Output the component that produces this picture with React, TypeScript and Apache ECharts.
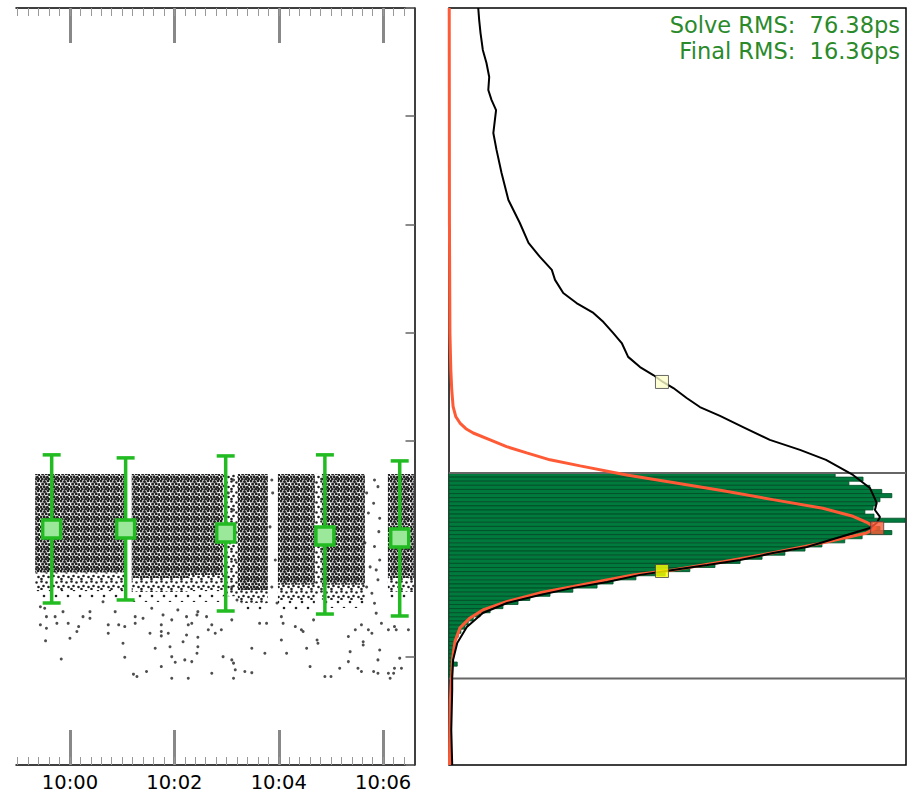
import React, { useEffect, useRef } from 'react';
import * as echarts from 'echarts';

// ---------- axis ticks (seconds after 10:00:00) ----------
const majorTimeTicks = [0, 120, 240, 360];
const minorTimeTicks = [-60, -48, -36, -24, -12, 0, 12, 24, 36, 48, 60, 72, 84, 96, 108, 120, 132, 144, 156, 168, 180, 192, 204, 216, 228, 240, 252, 264, 276, 288, 300, 312, 324, 336, 348, 360, 372, 384];

// ---------- error bars (time, mean delay, low, high) ----------
const errTimes = [-21, 64, 179, 293, 379];
const errMeans = [-190.9, -190.9, -192.7, -194.1, -195.0];
const errLows = [-225.1, -223.7, -228.8, -230.2, -231.1];
const errHighs = [-156.6, -158.0, -157.1, -156.6, -159.4];

// ---------- point-cloud column groups (time span, common top, dense/medium/sparse lower edges) ----------
const cloudTop = -165.4;
const groupStarts = [-40, 71, 138, 193, 239, 289.6, 365.4];
const groupEnds = [65.5, 138, 176, 227.5, 281.5, 339, 395.3];
const denseBottoms = [-211.0, -213.5, -212.1, -219.1, -216.7, -216.7, -213.5];
const mediumBottoms = [-219.1, -220.0, -219.1, -225.1, -223.7, -223.7, -220.0];
const sparseBottoms = [-223.7, -224.6, -224.6, -229.2, -228.3, -227.4, -223.7];
// thinner columns of medium density
const thinStarts = [176, 281.5];
const thinEnds = [193, 289.6];
const thinBottoms = [-222.0, -221.0];

// ---------- individual sparse points [time s, delay ps] ----------
const sparsePoints = [
  [-34, -226.8], [-29, -227.5], [-27, -231.4], [-17, -231.4], [-15, -234.5], [-8, -229.1], [-2, -234.5], [8, -238.3], [10, -236.0], [15, -231.4], [23, -229.1], [-34, -235.2], [-27, -236.8], [-28, -242.6], [0, -241.4], [-10, -251.0], [23, -232.2], [38, -224.5], [52, -229.1], [44, -235.2], [44, -239.1], [56, -235.2], [63, -236.0], [75, -231.4], [75, -234.5], [84, -232.2], [92, -239.1], [94, -227.5], [105, -235.2], [107, -230.6], [105, -238.3], [105, -240.3], [113, -239.1], [117, -232.9], [124, -228.3], [134, -231.4], [136, -235.2], [134, -239.9], [140, -234.5], [146, -230.6], [147, -229.1], [157, -231.4], [159, -237.5], [163, -235.2], [61, -243.7], [98, -246.0], [115, -245.3], [130, -243.0], [147, -240.9], [147, -245.3], [63, -250.2], [73, -258.0], [77, -259.1], [88, -256.8], [105, -254.5], [117, -249.9], [121, -252.5], [132, -251.4], [140, -252.2], [136, -259.9], [117, -259.9], [146, -248.3], [163, -257.6], [167, -239.1],
  [174, -237.5], [186, -232.9], [176, -249.9], [186, -251.4], [188, -252.9], [190, -256.0], [188, -259.9], [201, -256.8], [209, -257.3], [209, -246.0], [224, -248.3], [218, -234.5], [226, -234.5], [243, -242.2], [249, -248.3], [243, -231.4], [245, -234.5], [259, -236.0], [266, -237.5], [268, -238.3], [272, -246.0], [276, -254.5], [284, -242.2], [285, -243.7], [280, -232.9], [293, -259.1], [300, -259.1], [310, -255.3], [320, -252.2], [322, -247.6], [320, -240.6], [328, -237.5], [335, -235.2], [337, -243.0], [337, -244.5], [331, -255.3], [335, -256.8], [343, -237.5], [347, -239.1], [352, -229.8], [354, -251.4], [349, -256.8], [354, -257.6], [358, -234.5], [366, -237.5], [373, -236.0], [366, -257.6], [368, -259.9], [375, -237.5], [379, -250.6], [373, -255.3], [372, -257.6], [381, -255.3], [389, -237.5], [356, -246.8],
  [350, -168.2], [354, -171.3], [349, -179.0], [356, -185.9], [355, -192.1], [350, -199.0], [356, -205.2], [352, -209.8], [354, -214.4], [347, -220.6], [350, -225.2],
  [232, -168.2], [233, -174.2], [230, -189.9], [236, -205.2], [232, -217.7], [238, -225.1],
  [341, -174.2], [343, -183.5], [339, -197.3], [345, -208.4], [341, -217.7],
  [182, -174.2], [188, -182.1], [184, -197.3], [190, -205.2], [186, -217.7], [192, -223.7], [183, -189.9], [188, -168.2],
];

// ---------- histogram (right panel): counts from top bin to bottom bin ----------
const histTop = -165;
const histBinWidth = 1.9;
const histCounts = [845, 906, 875, 921, 947, 969, 943, 934, 928, 910, 930, 998, 926, 943, 969, 904, 866, 816, 779, 735, 685, 637, 582, 527, 473, 409, 359, 324, 271, 221, 177, 151, 118, 90, 68, 53, 42, 35, 26, 20, 15, 11, 9, 9, 7, 7, 18, 7, 7, 4];
const histBounds = [-165, -260];

// ---------- curves [count, delay] ----------
const cumulativeCurve = [[64, 50], [66, 44.5], [69, 38.4], [74, 30.6], [82, 24.6], [88, 18.1], [86, 12.1], [93, 7.5], [103, 2.8], [97, -7.8], [104, -15.6], [115, -26.3], [130, -38.8], [155, -49.4], [174, -58.6], [199, -65.1], [225, -71.1], [232, -75.7], [250, -81.8], [279, -86.4], [316, -91.0], [338, -95.2], [359, -100.2], [378, -104.9], [392, -111.3], [418, -116.0], [447, -119.7], [468, -122.9], [491, -125.7], [520, -130.3], [549, -134.5], [593, -138.6], [648, -144.2], [702, -149.7], [768, -154.3], [825, -158.9], [884, -165.9], [921, -171.9], [936, -178.8], [932, -182.1], [943, -185.3], [936, -188.1], [921, -190.4], [856, -194.6], [783, -199.2], [709, -202.0], [637, -205.2], [565, -207.5], [490, -209.8], [418, -212.1], [346, -215.4], [271, -218.1], [199, -221.4], [127, -225.1], [74, -229.7], [39, -236.2], [18, -243.6], [9, -251.4], [7, -259.3], [7, -265.3], [5, -283.8], [7, -300]];
const fitCurve = [[0.5, 50], [1, -50], [2, -100], [4, -117.4], [6, -126.6], [9, -134.3], [15, -139.0], [24, -141.9], [37, -144.5], [53, -146.5], [90, -149.7], [126, -152.8], [170, -155.7], [221, -158.9], [287, -161.7], [389, -165.9], [490, -169.4], [600, -173.2], [709, -177.3], [818, -181.3], [884, -185.0], [914, -187.8], [934, -190.4], [914, -192.7], [818, -197.3], [709, -201.9], [600, -206.0], [490, -209.8], [403, -212.1], [345, -214.4], [272, -217.5], [199, -220.4], [126, -224.5], [74, -228.3], [46, -232.0], [24, -236.6], [13, -242.9], [8, -250.5], [6, -258.4], [3, -269.9], [1, -300]];

const markerCounts = [466, 937, 466];
const markerDelays = [-122.9, -190.4, -210.3];
const markerColors = ['#ffffcc', '#ff5a36', '#ffff00'];

const rmsLines = ['Solve RMS:  76.38ps', 'Final RMS:  16.36ps'];

// hand-placed dot textures used to shade the dense part of the point cloud
const textureDense = [[1, 1], [4.5, 1.6], [8, 0.8], [2.6, 4], [6.1, 3.8], [9.1, 4.6], [0.8, 7], [4.1, 6.8], [7.3, 7.2], [2.2, 9.2], [5.6, 9.3], [8.8, 9.1]];
const textureMedium = [[1.5, 1.5], [6.5, 2.5], [3.5, 6], [8.5, 7], [1.5, 9]];
const textureSparse = [[2, 2], [8, 8]];

function makePattern(w: number, h: number, pts: number[][], r: number) {
  const circles = pts.map(p => `<circle cx="${p[0]}" cy="${p[1]}" r="${r}" fill="#222222"/>`).join('');
  const svg = `<svg xmlns="http://www.w3.org/2000/svg" width="${w}" height="${h}">${circles}</svg>`;
  return { image: 'data:image/svg+xml;charset=utf-8,' + encodeURIComponent(svg), repeat: 'repeat', imageWidth: w, imageHeight: h };
}

export default function App() {
  const ref = useRef<HTMLDivElement>(null);
  useEffect(() => {
    if (!ref.current) return;
    const chart = echarts.init(ref.current, null, { renderer: 'svg' });
    const patterns = [
      makePattern(10, 10, textureDense, 1.5),
      makePattern(10, 10, textureMedium, 1.3),
      makePattern(12, 12, textureSparse, 1.3),
    ];
    const bandRows: number[][] = [];
    groupStarts.forEach((s, i) => {
      bandRows.push([s, groupEnds[i], cloudTop, denseBottoms[i], 0]);
      bandRows.push([s, groupEnds[i], denseBottoms[i], mediumBottoms[i], 1]);
      bandRows.push([s, groupEnds[i], mediumBottoms[i], sparseBottoms[i], 2]);
    });
    thinStarts.forEach((s, i) => bandRows.push([s, thinEnds[i], cloudTop, thinBottoms[i], 1]));
    const errRows = errTimes.map((t, i) => [t, errMeans[i], errLows[i], errHighs[i]]);
    const histRows = histCounts.map((c, i) => [c, histTop - i * histBinWidth, histTop - (i + 1) * histBinWidth]);
    const font = 'DejaVu Sans';
    const timeFmt = (v: number) => `10:${String(Math.round(v / 60)).padStart(2, '0')}`;
    const green = '#22bb22';
    const baseX = { gridIndex: 0, type: 'value', min: -62, max: 396, splitLine: { show: false } };

    chart.setOption({
      animation: false,
      grid: [
        { left: 16, top: 8, width: 398.5, height: 757 },
        { left: 449, top: 8, width: 457, height: 757, show: true, borderColor: '#000', borderWidth: 1.5, backgroundColor: 'transparent' },
      ],
      xAxis: [
        {
          ...baseX, position: 'bottom',
          axisLine: { show: true, onZero: false, lineStyle: { color: '#000', width: 1.5 } },
          axisTick: { show: true, inside: true, length: 35, lineStyle: { color: '#888', width: 3 }, customValues: majorTimeTicks },
          axisLabel: { show: true, customValues: majorTimeTicks, formatter: timeFmt, fontSize: 19.5, fontFamily: font, color: '#000', margin: 7 },
        },
        {
          ...baseX, position: 'bottom',
          axisLine: { show: false, onZero: false },
          axisTick: { show: true, inside: true, length: 8, lineStyle: { color: '#999', width: 1 }, customValues: minorTimeTicks },
          axisLabel: { show: false },
        },
        {
          ...baseX, position: 'top',
          axisLine: { show: true, onZero: false, lineStyle: { color: '#000', width: 1.5 } },
          axisTick: { show: true, inside: true, length: 35, lineStyle: { color: '#888', width: 3 }, customValues: majorTimeTicks },
          axisLabel: { show: false },
        },
        {
          ...baseX, position: 'top',
          axisLine: { show: false, onZero: false },
          axisTick: { show: true, inside: true, length: 8, lineStyle: { color: '#999', width: 1 }, customValues: minorTimeTicks },
          axisLabel: { show: false },
        },
        { gridIndex: 1, type: 'value', min: 0, max: 1000, show: false, axisLine: { onZero: false } },
      ],
      yAxis: [
        {
          gridIndex: 0, type: 'value', min: -300, max: 50, interval: 50, position: 'right',
          axisLine: { show: true, onZero: false, lineStyle: { color: '#000', width: 1.5 } },
          axisTick: { show: true, inside: true, length: 9, lineStyle: { color: '#777', width: 1.7 } },
          axisLabel: { show: false }, splitLine: { show: false },
        },
        { gridIndex: 1, type: 'value', min: -300, max: 50, show: false, axisLine: { onZero: false } },
      ],
      graphic: rmsLines.map((t, i) => ({
        type: 'text', x: 900, y: 25 + i * 26, z: 100,
        style: { text: t, fill: '#2a8a2a', font: `22.5px "${font}"`, align: 'right', verticalAlign: 'middle' },
      })),
      series: [
        {
          type: 'custom', name: 'cloud', xAxisIndex: 0, yAxisIndex: 0, silent: true, z: 1,
          encode: { x: [0, 1], y: [2, 3] },
          data: bandRows,
          renderItem: (_p: any, api: any) => {
            const a = api.coord([api.value(0), api.value(2)]);
            const b = api.coord([api.value(1), api.value(3)]);
            return {
              type: 'rect',
              shape: { x: a[0], y: a[1], width: b[0] - a[0], height: b[1] - a[1] },
              style: { fill: patterns[api.value(4)] as any },
            };
          },
        },
        {
          type: 'scatter', name: 'points', xAxisIndex: 0, yAxisIndex: 0, symbol: 'circle', symbolSize: 3,
          itemStyle: { color: '#222' }, data: sparsePoints, silent: true, z: 2,
        },
        {
          type: 'custom', name: 'errors', xAxisIndex: 0, yAxisIndex: 0, silent: true, z: 5,
          encode: { x: 0, y: [1, 2, 3] },
          data: errRows,
          renderItem: (_p: any, api: any) => {
            const c = api.coord([api.value(0), api.value(1)]);
            const lo = api.coord([api.value(0), api.value(2)]);
            const hi = api.coord([api.value(0), api.value(3)]);
            const ls = { stroke: green, lineWidth: 3.5 };
            return {
              type: 'group',
              children: [
                { type: 'line', shape: { x1: c[0], y1: hi[1], x2: c[0], y2: lo[1] }, style: ls },
                { type: 'line', shape: { x1: c[0] - 9, y1: hi[1], x2: c[0] + 9, y2: hi[1] }, style: ls },
                { type: 'line', shape: { x1: c[0] - 9, y1: lo[1], x2: c[0] + 9, y2: lo[1] }, style: ls },
                { type: 'rect', shape: { x: c[0] - 9, y: c[1] - 9, width: 18, height: 18 }, style: { fill: '#9be89b', stroke: green, lineWidth: 3.5 } },
              ],
            };
          },
        },
        {
          type: 'custom', name: 'histogram', xAxisIndex: 4, yAxisIndex: 1, silent: true, z: 2,
          encode: { x: 0, y: [1, 2] },
          data: histRows,
          renderItem: (_p: any, api: any) => {
            const a = api.coord([0, api.value(1)]);
            const b = api.coord([api.value(0), api.value(2)]);
            return {
              type: 'rect',
              shape: { x: a[0], y: a[1], width: b[0] - a[0], height: b[1] - a[1] },
              style: { fill: '#007a3d', stroke: '#004a24', lineWidth: 0.8 },
            };
          },
        },
        ...histBounds.map(v => ({
          type: 'line', xAxisIndex: 4, yAxisIndex: 1, symbol: 'none', silent: true, z: 3,
          lineStyle: { color: '#666', width: 2 },
          data: [[0, v], [1000, v]],
        })),
        {
          type: 'line', name: 'fit', xAxisIndex: 4, yAxisIndex: 1, symbol: 'none', silent: true, z: 4,
          lineStyle: { color: '#ff5a36', width: 3 }, data: fitCurve,
        },
        {
          type: 'line', name: 'cumulative', xAxisIndex: 4, yAxisIndex: 1, symbol: 'none', silent: true, z: 4,
          lineStyle: { color: '#000', width: 2 }, data: cumulativeCurve,
        },
        {
          type: 'scatter', name: 'markers', xAxisIndex: 4, yAxisIndex: 1, symbol: 'rect', symbolSize: 13, silent: true, z: 6,
          data: markerCounts.map((c, i) => ({ value: [c, markerDelays[i]], itemStyle: { color: markerColors[i], borderColor: '#444', borderWidth: 1 } })),
        },
      ],
    });
    return () => chart.dispose();
  }, []);
  return <div ref={ref} style={{ position: 'absolute', left: 0, top: 0, width: 912, height: 793 }} />;
}
